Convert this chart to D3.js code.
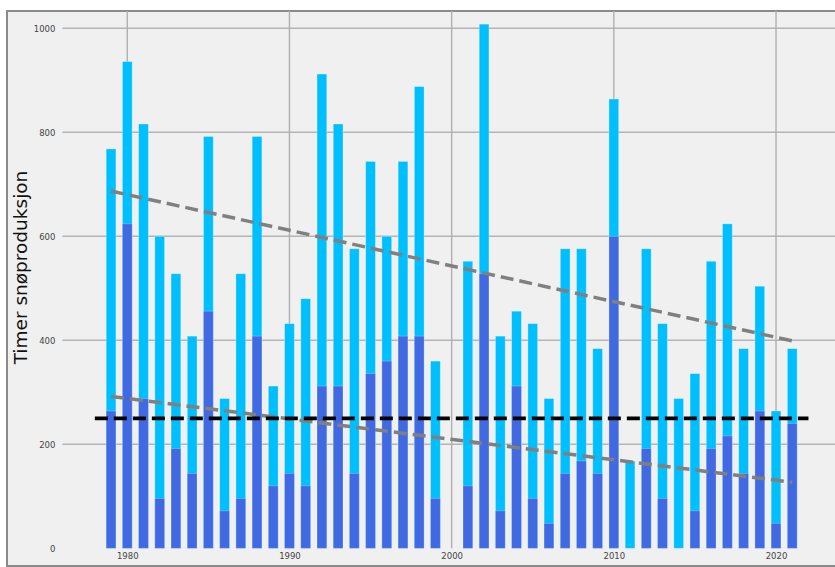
<!DOCTYPE html>
<html>
<head>
<meta charset="utf-8">
<script src="https://cdn.jsdelivr.net/npm/d3@7"></script>
<style>
  html, body { margin: 0; padding: 0; background: #ffffff; overflow: hidden; }
  svg { display: block; }
</style>
</head>
<body>
<div id="chart"></div>
<script>
// snow production hours per season (light = total, dark = lower part)
const years = [1979, 1980, 1981, 1982, 1983, 1984, 1985, 1986, 1987, 1988, 1989,
               1990, 1991, 1992, 1993, 1994, 1995, 1996, 1997, 1998, 1999,
               2001, 2002, 2003, 2004, 2005, 2006, 2007, 2008, 2009, 2010,
               2011, 2012, 2013, 2014, 2015, 2016, 2017, 2018, 2019, 2020, 2021];
const totalHours = [768, 936, 816, 600, 528, 408, 792, 288, 528, 792, 312,
                    432, 480, 912, 816, 576, 744, 600, 744, 888, 360,
                    552, 1008, 408, 456, 432, 288, 576, 576, 384, 864,
                    168, 576, 432, 288, 336, 552, 624, 384, 504, 264, 384];
const lowHours = [264, 624, 288, 96, 192, 144, 456, 72, 96, 408, 120,
                  144, 120, 312, 312, 144, 336, 360, 408, 408, 96,
                  120, 528, 72, 312, 96, 48, 144, 168, 144, 600,
                  0, 192, 96, 0, 72, 192, 216, 144, 264, 48, 240];

// trend lines (end points)
const trendYears = [1979, 2021];
const trendTotal = [687, 399];
const trendLow = [292, 127];

const threshold = 250;
const thresholdYears = [1978, 2022];

const xTicks = [1980, 1990, 2000, 2010, 2020];
const yTicks = [0, 200, 400, 600, 800, 1000];

const width = 835, height = 567;
const frame = { left: 7, top: 11, right: 845, bottom: 566 };

const svg = d3.select("#chart").append("svg")
    .attr("width", width)
    .attr("height", height);

svg.append("rect")
    .attr("x", frame.left)
    .attr("y", frame.top)
    .attr("width", frame.right - frame.left)
    .attr("height", frame.bottom - frame.top)
    .attr("fill", "#f0f0f0")
    .attr("stroke", "#8a8a8a")
    .attr("stroke-width", 2);

const x = d3.scaleLinear().domain([1976, 2024]).range([62.4, 840.9]);
const y = d3.scaleLinear().domain([0, 1030]).range([548.3, 12.7]);
const barW = x(1979.6) - x(1979);

// grid
const grid = svg.append("g").attr("class", "grid");
grid.selectAll(".hgrid")
    .data(yTicks.filter(d => d > 0))
    .enter()
    .append("line")
    .attr("class", "hgrid")
    .attr("x1", x(1976)).attr("x2", width)
    .attr("y1", d => y(d)).attr("y2", d => y(d))
    .attr("stroke", "#b4b4b4")
    .attr("stroke-width", 1.4);
grid.selectAll(".vgrid")
    .data(xTicks)
    .enter()
    .append("line")
    .attr("class", "vgrid")
    .attr("x1", d => x(d)).attr("x2", d => x(d))
    .attr("y1", frame.top).attr("y2", y(0))
    .attr("stroke", "#b0b0b0")
    .attr("stroke-width", 1.4);

// axes (labels only, no domain lines)
const xAxis = svg.append("g")
    .attr("transform", `translate(0, ${y(0) + 2})`)
    .call(d3.axisBottom(x).tickValues(xTicks).tickSize(0).tickFormat(d3.format("d")));
const yAxis = svg.append("g")
    .attr("transform", `translate(${x(1976) - 4}, 0)`)
    .call(d3.axisLeft(y).tickValues(yTicks).tickSize(0).tickFormat(d3.format("d")));
[xAxis, yAxis].forEach(a => {
    a.select(".domain").remove();
    a.selectAll("text")
        .style("font-family", "DejaVu Sans, sans-serif")
        .style("font-size", "8.5px")
        .attr("fill", "#444");
});

svg.append("text")
    .attr("transform", `translate(27, ${y(540)}) rotate(-90)`)
    .attr("text-anchor", "middle")
    .style("font-family", "DejaVu Sans, sans-serif")
    .style("font-size", "18.5px")
    .attr("fill", "#111")
    .text("Timer snøproduksjon");

// bars
const rows = years.map((d, i) => ({ year: d, total: totalHours[i], low: lowHours[i] }));
const bars = svg.append("g").attr("class", "bars");
bars.selectAll(".bar-total")
    .data(rows)
    .enter()
    .append("rect")
    .attr("class", "bar-total")
    .attr("x", d => x(d.year) - barW / 2)
    .attr("width", barW)
    .attr("y", d => y(d.total))
    .attr("height", d => y(0) - y(d.total))
    .attr("fill", "#00bfff")
    .attr("stroke", "rgba(255,255,255,0.35)")
    .attr("stroke-width", 0.8);
bars.selectAll(".bar-low")
    .data(rows.filter(d => d.low > 0))
    .enter()
    .append("rect")
    .attr("class", "bar-low")
    .attr("x", d => x(d.year) - barW / 2)
    .attr("width", barW)
    .attr("y", d => y(d.low))
    .attr("height", d => y(0) - y(d.low))
    .attr("fill", "#4169e1")
    .attr("stroke", "rgba(255,255,255,0.3)")
    .attr("stroke-width", 0.8);

// trend + threshold lines
const line = d3.line().x(d => x(d[0])).y(d => y(d[1]));
[trendTotal, trendLow].forEach(t => {
    svg.append("path")
        .datum(trendYears.map((d, i) => [d, t[i]]))
        .attr("d", line)
        .attr("fill", "none")
        .attr("stroke", "#808080")
        .attr("stroke-width", 3.5)
        .attr("stroke-dasharray", "13,6");
});
svg.append("path")
    .datum(thresholdYears.map(d => [d, threshold]))
    .attr("d", line)
    .attr("fill", "none")
    .attr("stroke", "#000")
    .attr("stroke-width", 3.8)
    .attr("stroke-dasharray", "13,6");
</script>
</body>
</html>
